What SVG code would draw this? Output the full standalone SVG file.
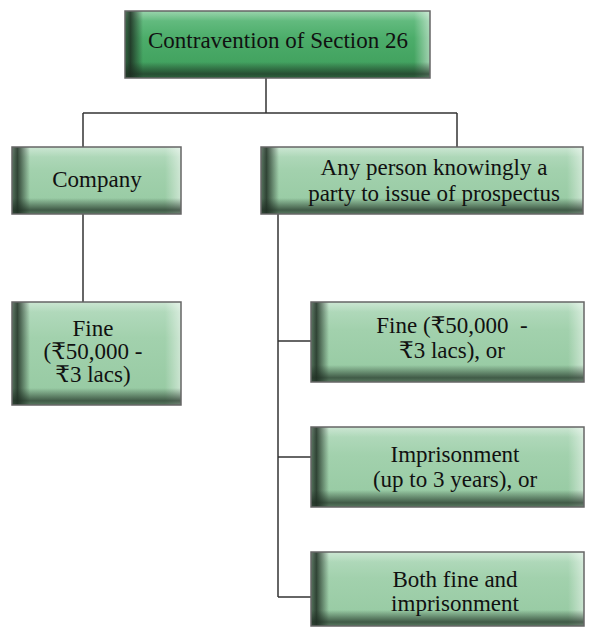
<svg xmlns="http://www.w3.org/2000/svg" width="592" height="628" viewBox="0 0 592 628">
<style>
  text { font-family: "Liberation Serif", "DejaVu Serif", "Noto Sans", serif; font-size: 23px; fill: #111; text-anchor: middle; }
  .box { stroke: #666; stroke-width: 1.5; }
  .light { fill: url(#gLight); }
  .dark { fill: url(#gDark); }
  .lb { fill: url(#gLeft); }
  .bb { fill: url(#gBottom); }
  .rb { fill: url(#gRight); }
  .tb { fill: url(#gTop); }
  .frame { fill: none; stroke: #666; stroke-width: 1.5; }
  .conn line { stroke: #333; stroke-width: 1.5; }
</style>
<defs>
  <linearGradient id="gLight" x1="0" y1="0" x2="0" y2="1">
    <stop offset="0" stop-color="#b6dcc0"/>
    <stop offset="0.35" stop-color="#a2d1ad"/>
    <stop offset="1" stop-color="#95c9a1"/>
  </linearGradient>
  <linearGradient id="gDark" x1="0" y1="0" x2="0" y2="1">
    <stop offset="0" stop-color="#6fc28a"/>
    <stop offset="0.4" stop-color="#4cad6a"/>
    <stop offset="1" stop-color="#3d9c5a"/>
  </linearGradient>
  <linearGradient id="gLeft" x1="0" y1="0" x2="1" y2="0">
    <stop offset="0" stop-color="#1c2b20" stop-opacity="0.55"/>
    <stop offset="0.3" stop-color="#1c2b20" stop-opacity="0.85"/>
    <stop offset="1" stop-color="#1c2b20" stop-opacity="0"/>
  </linearGradient>
  <linearGradient id="gBottom" x1="0" y1="0" x2="0" y2="1">
    <stop offset="0" stop-color="#1c2b20" stop-opacity="0"/>
    <stop offset="0.75" stop-color="#1c2b20" stop-opacity="0.7"/>
    <stop offset="1" stop-color="#1c2b20" stop-opacity="0.5"/>
  </linearGradient>
  <linearGradient id="gRight" x1="0" y1="0" x2="1" y2="0">
    <stop offset="0" stop-color="#ffffff" stop-opacity="0"/>
    <stop offset="1" stop-color="#ffffff" stop-opacity="0.5"/>
  </linearGradient>
  <linearGradient id="gTop" x1="0" y1="0" x2="0" y2="1">
    <stop offset="0" stop-color="#ffffff" stop-opacity="0.3"/>
    <stop offset="1" stop-color="#ffffff" stop-opacity="0"/>
  </linearGradient>
</defs>

<g id="connectors" class="conn">
  <line x1="266" y1="78" x2="266" y2="113"/>
  <line x1="83" y1="113" x2="457" y2="113"/>
  <line x1="83" y1="113" x2="83" y2="147"/>
  <line x1="457" y1="113" x2="457" y2="147"/>
  <line x1="83" y1="214" x2="83" y2="302"/>
  <line x1="278" y1="214" x2="278" y2="597"/>
  <line x1="278" y1="341" x2="311" y2="341"/>
  <line x1="278" y1="457" x2="311" y2="457"/>
  <line x1="278" y1="597" x2="311" y2="597"/>
</g>

<g id="node-contravention">
  <rect class="dark" x="125" y="11" width="305" height="67"/>
  <rect class="tb" x="125" y="11" width="305" height="10"/>
  <rect class="rb" x="414" y="11" width="16" height="67"/>
  <rect class="lb" x="125" y="11" width="18" height="67"/>
  <rect class="bb" x="125" y="62" width="305" height="16"/>
  <rect class="frame" x="125" y="11" width="305" height="67"/>
  <text x="278" y="48">Contravention of Section 26</text>
</g>

<g id="node-company">
  <rect class="light" x="12" y="147" width="169" height="67"/>
  <rect class="tb" x="12" y="147" width="169" height="10"/>
  <rect class="rb" x="165" y="147" width="16" height="67"/>
  <rect class="lb" x="12" y="147" width="18" height="67"/>
  <rect class="bb" x="12" y="198" width="169" height="16"/>
  <rect class="frame" x="12" y="147" width="169" height="67"/>
  <text x="97" y="187">Company</text>
</g>

<g id="node-person">
  <rect class="light" x="261" y="147" width="322" height="67"/>
  <rect class="tb" x="261" y="147" width="322" height="10"/>
  <rect class="rb" x="567" y="147" width="16" height="67"/>
  <rect class="lb" x="261" y="147" width="18" height="67"/>
  <rect class="bb" x="261" y="198" width="322" height="16"/>
  <rect class="frame" x="261" y="147" width="322" height="67"/>
  <text x="434" y="175">Any person knowingly a</text>
  <text x="434" y="201">party to issue of prospectus</text>
</g>

<g id="node-company-fine">
  <rect class="light" x="12" y="302" width="169" height="103"/>
  <rect class="tb" x="12" y="302" width="169" height="10"/>
  <rect class="rb" x="165" y="302" width="16" height="103"/>
  <rect class="lb" x="12" y="302" width="18" height="103"/>
  <rect class="bb" x="12" y="388" width="169" height="17"/>
  <rect class="frame" x="12" y="302" width="169" height="103"/>
  <text x="93" y="336">Fine</text>
  <text x="93" y="359">(₹50,000 -</text>
  <text x="93" y="382">₹3 lacs)</text>
</g>

<g id="node-person-fine">
  <rect class="light" x="311" y="302" width="273" height="80"/>
  <rect class="tb" x="311" y="302" width="273" height="10"/>
  <rect class="rb" x="568" y="302" width="16" height="80"/>
  <rect class="lb" x="311" y="302" width="18" height="80"/>
  <rect class="bb" x="311" y="365" width="273" height="17"/>
  <rect class="frame" x="311" y="302" width="273" height="80"/>
  <text x="452" y="333" xml:space="preserve">Fine (₹50,000  -</text>
  <text x="452" y="358">₹3 lacs), or</text>
</g>

<g id="node-imprisonment">
  <rect class="light" x="311" y="427" width="273" height="80"/>
  <rect class="tb" x="311" y="427" width="273" height="10"/>
  <rect class="rb" x="568" y="427" width="16" height="80"/>
  <rect class="lb" x="311" y="427" width="18" height="80"/>
  <rect class="bb" x="311" y="490" width="273" height="17"/>
  <rect class="frame" x="311" y="427" width="273" height="80"/>
  <text x="455" y="462">Imprisonment</text>
  <text x="455" y="487">(up to 3 years), or</text>
</g>

<g id="node-both">
  <rect class="light" x="311" y="552" width="273" height="74"/>
  <rect class="tb" x="311" y="552" width="273" height="10"/>
  <rect class="rb" x="568" y="552" width="16" height="74"/>
  <rect class="lb" x="311" y="552" width="18" height="74"/>
  <rect class="bb" x="311" y="610" width="273" height="16"/>
  <rect class="frame" x="311" y="552" width="273" height="74"/>
  <text x="455" y="587">Both fine and</text>
  <text x="455" y="611">imprisonment</text>
</g>
</svg>
